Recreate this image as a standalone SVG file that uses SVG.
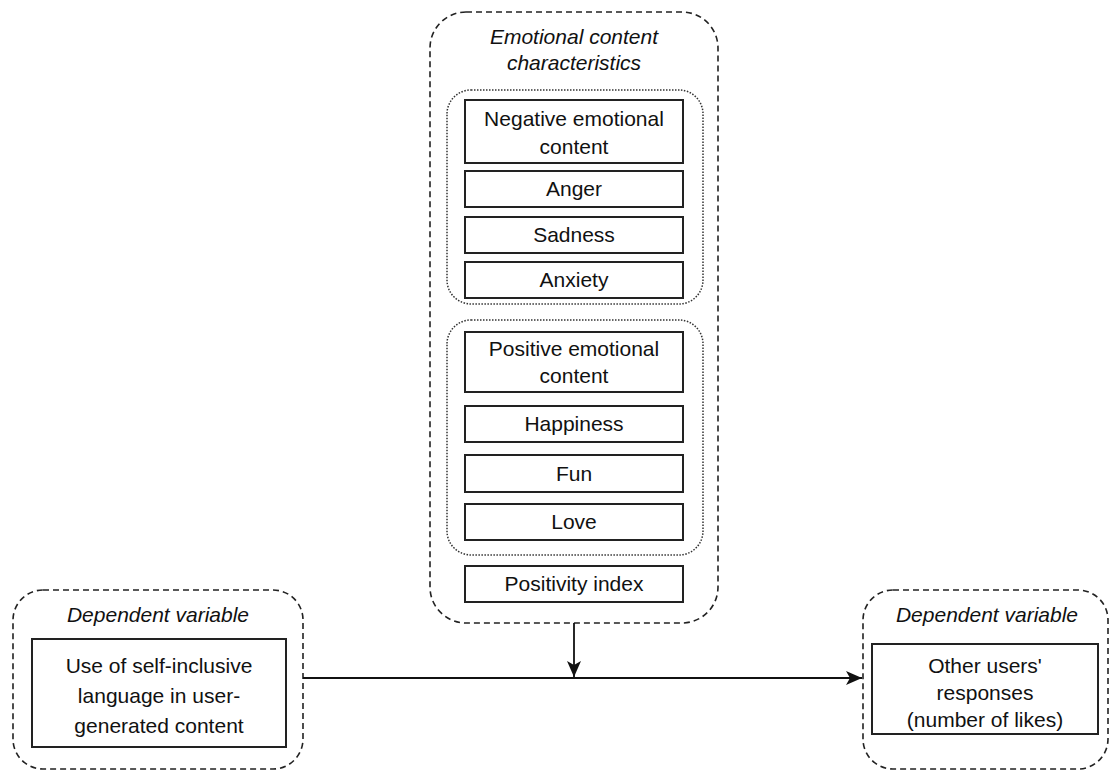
<svg xmlns="http://www.w3.org/2000/svg" width="1110" height="771" viewBox="0 0 1110 771">
<defs>
<style>
.t{font-family:"Liberation Sans",Arial,sans-serif;font-size:21px;fill:#111;text-anchor:middle}
.it{font-style:italic}
.box{fill:#fff;stroke:#222;stroke-width:2}
.dash{fill:none;stroke:#222;stroke-width:1.6;stroke-dasharray:6 4}
.dot{fill:none;stroke:#333;stroke-width:1.5;stroke-dasharray:1.5 1.5}
.edge{fill:none;stroke:#111;stroke-width:1.8}
</style>
<marker id="arr" viewBox="0 0 16 14" refX="16" refY="7" markerWidth="16" markerHeight="14" markerUnits="userSpaceOnUse" orient="auto">
<path d="M0,0 L16,7 L0,14 L4,7 Z" fill="#111"/>
</marker>
</defs>
<rect width="1110" height="771" fill="#fff"/>
<g id="emotional">
<rect class="dash" x="430" y="12" width="288" height="611" rx="36"/>
<text class="t it" x="574" y="44">Emotional content</text>
<text class="t it" x="574" y="70">characteristics</text>
</g>
<g id="negative-group">
<rect class="dot" x="447" y="90" width="256" height="214" rx="24"/>
</g>
<g id="negative">
<rect class="box" x="465" y="100" width="218" height="63"/>
<text class="t" x="574" y="126">Negative emotional</text>
<text class="t" x="574" y="154">content</text>
</g>
<g id="anger"><rect class="box" x="465" y="171" width="218" height="36"/><text class="t" x="574" y="196">Anger</text></g>
<g id="sadness"><rect class="box" x="465" y="217" width="218" height="36"/><text class="t" x="574" y="242">Sadness</text></g>
<g id="anxiety"><rect class="box" x="465" y="262" width="218" height="36"/><text class="t" x="574" y="287">Anxiety</text></g>
<g id="positive-group">
<rect class="dot" x="447" y="320" width="256" height="235" rx="24"/>
</g>
<g id="positive">
<rect class="box" x="465" y="332" width="218" height="60"/>
<text class="t" x="574" y="356">Positive emotional</text>
<text class="t" x="574" y="383">content</text>
</g>
<g id="happiness"><rect class="box" x="465" y="406" width="218" height="36"/><text class="t" x="574" y="431">Happiness</text></g>
<g id="fun"><rect class="box" x="465" y="455" width="218" height="37"/><text class="t" x="574" y="481">Fun</text></g>
<g id="love"><rect class="box" x="465" y="504" width="218" height="36"/><text class="t" x="574" y="529">Love</text></g>
<g id="positivity"><rect class="box" x="465" y="566" width="218" height="36"/><text class="t" x="574" y="591">Positivity index</text></g>
<g id="left">
<rect class="dash" x="13" y="590" width="290" height="179" rx="30"/>
<text class="t it" x="158" y="622">Dependent variable</text>
<rect class="box" x="32" y="639" width="254" height="108"/>
<text class="t" x="159" y="673">Use of self-inclusive</text>
<text class="t" x="159" y="703">language in user-</text>
<text class="t" x="159" y="733">generated content</text>
</g>
<g id="right">
<rect class="dash" x="863" y="590" width="245" height="179" rx="30"/>
<text class="t it" x="987" y="622">Dependent variable</text>
<rect class="box" x="872" y="644" width="226" height="90"/>
<text class="t" x="985" y="673">Other users'</text>
<text class="t" x="985" y="700">responses</text>
<text class="t" x="985" y="727">(number of likes)</text>
</g>
<g id="connectors">
<line class="edge" x1="303" y1="678" x2="862" y2="678" marker-end="url(#arr)"/>
<line class="edge" x1="574" y1="623" x2="574" y2="677" marker-end="url(#arr)"/>
</g>
</svg>
